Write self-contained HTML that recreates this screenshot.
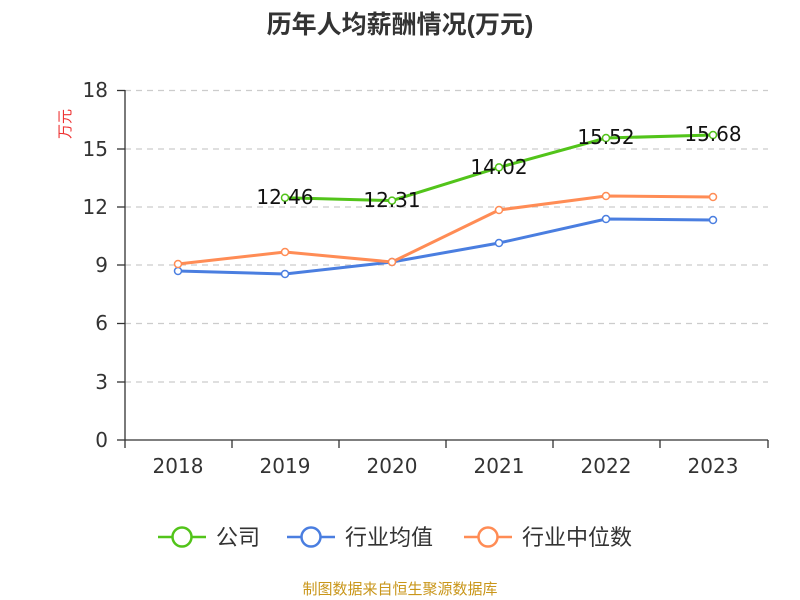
<!DOCTYPE html>
<html><head><meta charset="utf-8"><style>body{margin:0;background:#fff}svg{display:block}text{font-family:"DejaVu Sans","Noto Sans CJK SC",sans-serif}</style></head><body>
<svg width="800" height="600" xmlns="http://www.w3.org/2000/svg">
<text x="400" y="33" text-anchor="middle" font-size="25" font-weight="bold" fill="#333" style="font-family:'Liberation Sans','Noto Sans CJK SC',sans-serif">历年人均薪酬情况(万元)</text>
<text transform="translate(70,124) rotate(-90)" text-anchor="middle" font-size="15" fill="#e33">万元</text>
<g stroke="#ccc" stroke-dasharray="6,5" stroke-width="1.3">
<line x1="125" x2="768" y1="90.5" y2="90.5"/><line x1="125" x2="768" y1="149" y2="149"/><line x1="125" x2="768" y1="207" y2="207"/><line x1="125" x2="768" y1="265" y2="265"/><line x1="125" x2="768" y1="323.5" y2="323.5"/><line x1="125" x2="768" y1="382" y2="382"/></g>
<g stroke="#333" stroke-width="1.3"><line x1="125" x2="125" y1="90" y2="440"/><line x1="125" x2="768" y1="440" y2="440"/>
<line x1="117" x2="125" y1="90.5" y2="90.5"/><line x1="117" x2="125" y1="149" y2="149"/><line x1="117" x2="125" y1="207" y2="207"/><line x1="117" x2="125" y1="265" y2="265"/><line x1="117" x2="125" y1="323.5" y2="323.5"/><line x1="117" x2="125" y1="382" y2="382"/><line x1="117" x2="125" y1="440" y2="440"/>
<line x1="125" x2="125" y1="440" y2="448"/><line x1="232" x2="232" y1="440" y2="448"/><line x1="339" x2="339" y1="440" y2="448"/><line x1="446" x2="446" y1="440" y2="448"/><line x1="553" x2="553" y1="440" y2="448"/><line x1="660" x2="660" y1="440" y2="448"/><line x1="768" x2="768" y1="440" y2="448"/></g>
<g font-size="20" fill="#333" text-anchor="end"><text x="108" y="97">18</text><text x="108" y="156">15</text><text x="108" y="214">12</text><text x="108" y="272">9</text><text x="108" y="330">6</text><text x="108" y="389">3</text><text x="108" y="447">0</text></g>
<g font-size="20" fill="#333" text-anchor="middle"><text x="178" y="473">2018</text><text x="285" y="473">2019</text><text x="392" y="473">2020</text><text x="499" y="473">2021</text><text x="606" y="473">2022</text><text x="713" y="473">2023</text></g>
<polyline fill="none" stroke="#4a7ee0" stroke-width="3" points="178,271 285,274 392,262 499,243 606,219 713,220"/>
<polyline fill="none" stroke="#ff8c55" stroke-width="3" points="178,264 285,252 392,262 499,210 606,196 713,197"/>
<polyline fill="none" stroke="#52c41a" stroke-width="3" points="285,197.7 392,200.6 499,167.4 606,138 713,135"/>
<g fill="#fff" stroke-width="1.5">
<g stroke="#4a7ee0"><circle cx="178" cy="271" r="3.5"/><circle cx="285" cy="274" r="3.5"/><circle cx="392" cy="262" r="3.5"/><circle cx="499" cy="243" r="3.5"/><circle cx="606" cy="219" r="3.5"/><circle cx="713" cy="220" r="3.5"/></g>
<g stroke="#ff8c55"><circle cx="178" cy="264" r="3.5"/><circle cx="285" cy="252" r="3.5"/><circle cx="392" cy="262" r="3.5"/><circle cx="499" cy="210" r="3.5"/><circle cx="606" cy="196" r="3.5"/><circle cx="713" cy="197" r="3.5"/></g>
<g stroke="#52c41a"><circle cx="285" cy="197.7" r="3.5"/><circle cx="392" cy="200.6" r="3.5"/><circle cx="499" cy="167.4" r="3.5"/><circle cx="606" cy="138" r="3.5"/><circle cx="713" cy="135" r="3.5"/></g></g>
<g font-size="20" fill="#111" text-anchor="middle"><text x="285" y="204">12.46</text><text x="392" y="207">12.31</text><text x="499" y="174">14.02</text><text x="606" y="144">15.52</text><text x="713" y="141">15.68</text></g>
<g stroke-width="2.5" fill="#fff">
<line x1="158" x2="206" y1="537" y2="537" stroke="#52c41a"/><circle cx="182" cy="537" r="9.5" stroke="#52c41a"/>
<line x1="287" x2="335" y1="537" y2="537" stroke="#4a7ee0"/><circle cx="311" cy="537" r="9.5" stroke="#4a7ee0"/>
<line x1="464" x2="512" y1="537" y2="537" stroke="#ff8c55"/><circle cx="488" cy="537" r="9.5" stroke="#ff8c55"/></g>
<g font-size="22" fill="#333"><text x="216" y="545">公司</text><text x="345" y="545">行业均值</text><text x="522" y="545">行业中位数</text></g>
<text x="400" y="594" text-anchor="middle" font-size="15" fill="#c9961a">制图数据来自恒生聚源数据库</text>
</svg></body></html>
